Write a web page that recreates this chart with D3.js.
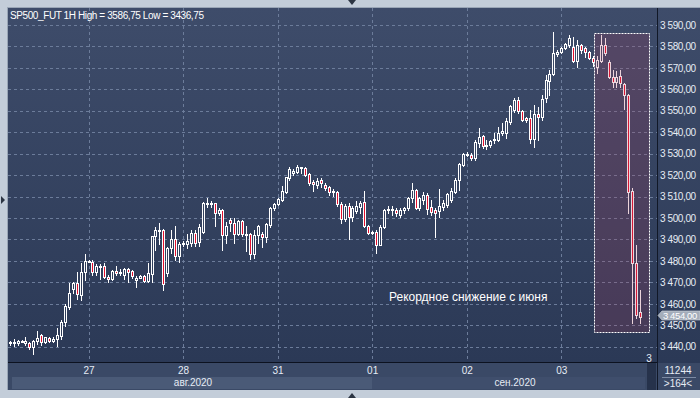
<!DOCTYPE html>
<html><head><meta charset="utf-8">
<script src="https://cdn.jsdelivr.net/npm/d3@7"></script>
<style>html,body{margin:0;padding:0;background:#c3cdd9;}svg{display:block;}</style>
</head><body>
<script>
const title = "SP500_FUT 1H High = 3586,75 Low = 3436,75";
const annotation = "Рекордное снижение с июня";
const open  = [3441.5,3442,3441.5,3442.5,3441.7,3441.5,3439.8,3442.5,3445.4,3442,3444,3442.7,3443.5,3445.2,3451.4,3458.3,3467,3469.6,3464.2,3475,3479.7,3479.7,3475,3477,3477.7,3472.4,3471.5,3475.3,3474.3,3473.2,3476.1,3475.3,3471.3,3472,3473,3470.8,3473.7,3491.5,3494,3494.4,3474.2,3485.9,3490,3482.2,3488,3488,3488.5,3493,3489,3493.7,3506.6,3507,3506.9,3502.5,3503.8,3492.1,3499.1,3497.5,3492.4,3498.8,3492.4,3492.4,3483,3492.1,3492.4,3491.3,3496.8,3504.6,3506.6,3508.4,3512.3,3518.5,3520.8,3521.6,3523.6,3523.3,3520.5,3517,3515.4,3517.7,3515.4,3514.3,3511.9,3512.3,3506.6,3499.4,3505.5,3500.3,3503.5,3505,3507.6,3496.3,3493.5,3493.7,3487.5,3496,3503.8,3503.8,3503.8,3501.4,3503.8,3504.5,3509.2,3513.1,3504.5,3508.5,3510.8,3505,3503.8,3503.5,3505.3,3506.1,3508.4,3512.3,3517.7,3524.7,3529.7,3529.2,3527.8,3535.2,3538.4,3534,3533.9,3536.2,3536.4,3539.5,3539.8,3545,3550.4,3555,3550,3546.5,3546.5,3536.7,3548.3,3547.3,3555.8,3564.1,3567.2,3576.3,3577.3,3579.1,3580.7,3579.6,3573.4,3580.7,3579.1,3577.6,3574.5,3570.3,3573.4,3580.7,3572.9,3565.6,3563.3,3566,3562.3,3557.4,3512.8,3479.2,3456.4];
const high  = [3442.5,3443.5,3443,3443.2,3444.7,3442.3,3443.2,3447.5,3445.7,3444.6,3444.6,3444.5,3448.6,3452.5,3459.7,3469.9,3470,3475,3478.9,3483.3,3480.3,3480.5,3478.6,3478.6,3478.9,3473.5,3475.8,3477.7,3476,3476.6,3476.6,3475.8,3473,3473.5,3473.5,3478.9,3491.5,3496,3497.8,3495,3486.6,3494.4,3496.3,3489,3489.5,3492.6,3494.4,3494.4,3497.2,3507.5,3509.2,3508,3507.2,3504.6,3504.2,3498.3,3499.9,3499.9,3499.1,3499.1,3496.3,3492.9,3494.4,3496.6,3493.6,3497.5,3505,3507.2,3509.2,3515,3519.3,3524,3522.7,3524.7,3524,3523.6,3520.8,3517.7,3518.8,3518.5,3516.2,3514.9,3513.4,3512.6,3507.6,3506.5,3506.9,3505.6,3508.1,3508,3512.6,3496.6,3494,3494.4,3496.8,3504,3505.5,3505.6,3504.6,3504.6,3505.3,3510,3516.2,3513.4,3510,3512,3511.5,3508.4,3504.5,3513.4,3508.4,3511.5,3513.9,3518.5,3525.8,3530.2,3531,3530.2,3536.4,3542.1,3538.7,3536.4,3536.4,3539.5,3542.6,3544.2,3546.5,3552.7,3555.8,3556.6,3550.4,3547.3,3550.4,3552.7,3551.6,3557.4,3566.7,3569,3586.75,3578.3,3579.9,3581.8,3585.5,3584.6,3583,3581.1,3579.9,3578.1,3575.5,3575.5,3585.3,3583.8,3573.7,3569,3568.7,3569,3563.1,3557.6,3513.8,3487.4,3466.5];
const low   = [3441,3440.5,3441,3442,3440.8,3438.9,3436.75,3441.3,3440.7,3441.5,3442,3442.2,3440.4,3443.4,3449.8,3457.6,3465,3462.3,3461.8,3471.1,3479.5,3473.5,3473.5,3471.5,3471.9,3470,3471.2,3473.5,3473.5,3471.5,3470,3472,3468,3472,3470.4,3470.4,3470.3,3485,3488,3466.5,3473,3483.8,3480.4,3479.7,3487,3486,3487,3487,3486.8,3493,3505.3,3505,3496.3,3501.5,3485.1,3488.2,3494,3488.5,3492,3491.4,3484.8,3480.8,3481.2,3488.2,3486.4,3489,3496,3503.8,3506.1,3508.1,3511.5,3517.7,3520,3520.8,3521.2,3519.6,3515.4,3512.8,3513.9,3514.6,3513.1,3510.8,3510.3,3505.6,3497.8,3498.5,3490,3498.8,3502.2,3502.2,3496,3492.5,3492.4,3483.9,3487.2,3495.5,3502.5,3501.5,3500.9,3500.6,3502.5,3503.8,3507.6,3504,3503.6,3506.6,3502,3501.4,3491.3,3500.6,3503.8,3505.3,3507.6,3511.5,3513.1,3524.3,3528.9,3527.1,3527.1,3533.3,3532.5,3532,3533.3,3535.2,3536.1,3538.7,3537.5,3543.9,3549.6,3548.8,3545.4,3545,3534.8,3533.3,3536.4,3545.7,3554.3,3557.4,3566.7,3575.5,3576.8,3578.6,3579.9,3572.9,3570.6,3576.8,3574.9,3574,3570.9,3567.5,3572.9,3576,3565.1,3561.2,3561.2,3561.2,3551,3502.5,3450.9,3453.2,3451.2];
const close = [3442,3441.5,3442.7,3442.8,3442.5,3439.8,3442.7,3444,3442,3444.3,3442.5,3443.7,3445.5,3451.7,3459,3465,3469.6,3464.5,3475,3480,3480,3475,3477.4,3477.6,3472.4,3471.5,3475.3,3474.3,3474.6,3476.3,3475,3473,3472.2,3473,3470.8,3474.3,3491.4,3494.2,3494.5,3469.4,3485.9,3490,3482.2,3487.9,3488.5,3489.2,3493,3488.5,3496,3506.9,3507.2,3506.8,3502.5,3503.8,3492.1,3496.3,3497.5,3492.4,3498.8,3492.4,3492,3483,3492.1,3496.3,3491.3,3497,3504.6,3506.6,3508.9,3512.8,3519,3522.7,3522.1,3523.6,3523.2,3520,3516.5,3515.7,3517.3,3516.2,3514.2,3512.3,3512.6,3506.6,3499.4,3505.5,3500.3,3504.6,3505.7,3507.2,3496.5,3493.2,3493,3487.5,3496,3503.8,3504.2,3504.4,3502.2,3503.8,3504.8,3509.2,3513.1,3504.5,3509.2,3510.8,3504.3,3503,3502.5,3505.6,3506.9,3511.2,3512.6,3517.7,3525.2,3529.7,3530,3527.8,3535.6,3538,3533.6,3533.6,3535.9,3536.7,3539.5,3540.4,3545.4,3552.2,3555,3550,3545.9,3545.7,3536.7,3548.3,3547.3,3555.3,3564.4,3567.2,3576.8,3577.3,3579.1,3581.1,3583.8,3573.4,3580.7,3578.3,3577.3,3574.5,3572.9,3573.7,3580.7,3576.8,3565.6,3563.3,3565.6,3563.1,3557.4,3512.3,3479.2,3454.8,3454];
const priceTicks = [3440,3450,3460,3470,3480,3490,3500,3510,3520,3530,3540,3550,3560,3570,3580,3590];
const dayLabels = ["27","28","31","01","02","03"];
const dayIndex  = [20,44,68,92,116,140];
const monthLabels = ["авг.2020","сен.2020"];
const monthRanges = [[0,92],[92,160]];
const lastPrice = 3454;
const highlight = {from:148.4, to:162.3, top:3586.1, bottom:3446.9};
const volumeText = ["11244", ">164<"];

const W = 700, H = 398;
const N = open.length;
const svg = d3.select("body").append("svg").attr("width", W).attr("height", H)
  .style("font-family", "'Liberation Sans', Arial, sans-serif");

const defs = svg.append("defs");
const grad = defs.append("linearGradient").attr("id","bg").attr("gradientUnits","userSpaceOnUse")
  .attr("x1",0).attr("y1",8).attr("x2",0).attr("y2",363);
grad.append("stop").attr("offset","0%").attr("stop-color","#3e4c6a");
grad.append("stop").attr("offset","100%").attr("stop-color","#2b3956");

// frame
svg.append("rect").attr("x",0).attr("y",0).attr("width",W).attr("height",H).attr("fill","#c3cdd9");
svg.append("rect").attr("x",7).attr("y",7).attr("width",693).attr("height",383).attr("fill","#9aa6b6");
svg.append("rect").attr("x",8).attr("y",8).attr("width",649).attr("height",355).attr("fill","url(#bg)");
svg.append("rect").attr("x",657).attr("y",8).attr("width",43).attr("height",355).attr("fill","url(#bg)");

const x = d3.scaleLinear().domain([0, N-1]).range([9.7, 640.1]);
const y = d3.scaleLinear().domain([3440, 3590]).range([346.7, 25]);
const px = v => Math.round(x(v));
const py = v => Math.round(y(v));

// grid
const grid = svg.append("g").attr("stroke","#6c7c9a").attr("stroke-width",1).attr("stroke-dasharray","3,3");
grid.selectAll("line.h").data(priceTicks).join("line").attr("class","h")
  .attr("x1",8).attr("x2",657).attr("y1",d=>py(d)+0.5).attr("y2",d=>py(d)+0.5);
grid.selectAll("line.v").data(dayIndex).join("line").attr("class","v")
  .attr("x1",d=>px(d)+0.5).attr("x2",d=>px(d)+0.5).attr("y1",8).attr("y2",363);

// candles
const candles = svg.append("g");
const idx = d3.range(N);
candles.selectAll("line.w").data(idx).join("line").attr("class","w")
  .attr("x1",i=>px(i)+0.5).attr("x2",i=>px(i)+0.5)
  .attr("y1",i=>py(high[i])).attr("y2",i=>py(low[i])+1)
  .attr("stroke","#ffffff").attr("stroke-width",1);
candles.selectAll("rect.b").data(idx).join("rect").attr("class","b")
  .attr("x",i=>px(i)-0.5).attr("width",2)
  .attr("y",i=>py(Math.max(open[i],close[i]))+0.5)
  .attr("height",i=>Math.max(1, py(Math.min(open[i],close[i])) - py(Math.max(open[i],close[i]))))
  .attr("fill",i=>close[i] < open[i] ? "#e3102e" : "url(#bg)")
  .attr("stroke","#ffffff").attr("stroke-width",1);

// highlight box
svg.append("rect")
  .attr("x", px(highlight.from)+0.5).attr("y", py(highlight.top)+0.5)
  .attr("width", px(highlight.to)-px(highlight.from)).attr("height", py(highlight.bottom)-py(highlight.top))
  .attr("fill","rgba(170,60,90,0.22)")
  .attr("stroke","#ffffff").attr("stroke-width",1).attr("stroke-dasharray","2,1");

// annotation
svg.append("text").attr("x",389).attr("y",301).attr("fill","#ffffff")
  .attr("font-size","12px").text(annotation);

// title
svg.append("text").attr("x",10).attr("y",19).attr("fill","#ffffff")
  .attr("font-size","10px").attr("letter-spacing","-0.4px").text(title);

// right axis
svg.append("line").attr("x1",657.5).attr("x2",657.5).attr("y1",8).attr("y2",390).attr("stroke","#111827");
const loc = d3.formatLocale({decimal:",", thousands:" ", grouping:[3], currency:["",""]});
const fmt = loc.format(",.2f");
const ya = svg.append("g").attr("transform","translate(660,0)")
  .call(d3.axisRight(y).tickValues(priceTicks).tickFormat(fmt).tickSize(0).tickPadding(0));
ya.select(".domain").remove();
ya.selectAll("text").attr("fill","#e6ecf5").attr("font-size","10px").attr("letter-spacing","-0.4px")
  .style("font-family","'Liberation Sans', Arial, sans-serif");

// last price tag
const ly = y(lastPrice) - 1.2;
svg.append("path").attr("d",`M658,${ly} L662,${ly-4.5} L700,${ly-4.5} L700,${ly+4.5} L662,${ly+4.5} Z`)
  .attr("fill","#a4adba").attr("stroke","#d5dbe3").attr("stroke-width",0.6);
svg.append("text").attr("x",663).attr("y",ly+3.6).attr("fill","#ffffff").attr("font-size","9.5px")
  .attr("letter-spacing","-0.4px").text(fmt(lastPrice));

// bottom axis area
svg.append("rect").attr("x",8).attr("y",363).attr("width",649).attr("height",27).attr("fill","#3a4966");
svg.append("line").attr("x1",8).attr("x2",657).attr("y1",362.5).attr("y2",362.5).attr("stroke","#0c1220");
svg.selectAll("rect.month").data(monthRanges).join("rect").attr("class","month")
  .attr("x",(d,i)=> i===0 ? 12 : px(d[0])).attr("y",377)
  .attr("width",(d,i)=> (i===0 ? px(d[1]) : 645) - (i===0 ? 12 : px(d[0])))
  .attr("height",12).attr("fill",(d,i)=> i===0 ? "#4a5a77" : "#3f4e6c");
const xa = svg.append("g").attr("transform","translate(0,363)")
  .call(d3.axisBottom(x).tickValues(dayIndex).tickFormat((d,i)=>dayLabels[i]).tickSize(0).tickPadding(2));
xa.select(".domain").remove();
xa.selectAll("text").attr("fill","#e6ecf5").attr("font-size","10px")
  .style("font-family","'Liberation Sans', Arial, sans-serif").attr("dy","0.9em");
svg.selectAll("text.month").data(monthRanges).join("text").attr("class","month")
  .attr("x",(d,i)=> i===0 ? 193 : 515).attr("y",386).attr("text-anchor","middle")
  .attr("fill","#e6ecf5").attr("font-size","10px").text((d,i)=>monthLabels[i]);

// scroll stub and right-bottom panel
svg.append("rect").attr("x",647).attr("y",363).attr("width",9).attr("height",27).attr("fill","#26324b");
svg.append("rect").attr("x",658).attr("y",363).attr("width",42).attr("height",27).attr("fill","#3a4966");
svg.append("line").attr("x1",662).attr("x2",696).attr("y1",377.5).attr("y2",377.5).attr("stroke","#7c8aa3");
svg.append("text").attr("x",678).attr("y",374).attr("text-anchor","middle").attr("fill","#e6ecf5").attr("font-size","10px").text(volumeText[0]);
svg.append("text").attr("x",678).attr("y",387).attr("text-anchor","middle").attr("fill","#e6ecf5").attr("font-size","10px").text(volumeText[1]);
svg.append("text").attr("x",649).attr("y",362).attr("text-anchor","middle").attr("fill","#e6ecf5").attr("font-size","10px").text("3");

// navigation triangles
svg.append("path").attr("d","M348,0 L356,0 L352,5 Z").attr("fill","#2b3442");
svg.append("path").attr("d","M348,398 L356,398 L352,393 Z").attr("fill","#2b3442");
svg.append("path").attr("d","M1,196 L1,204 L5,200 Z").attr("fill","#2b3442");
</script>
</body></html>
